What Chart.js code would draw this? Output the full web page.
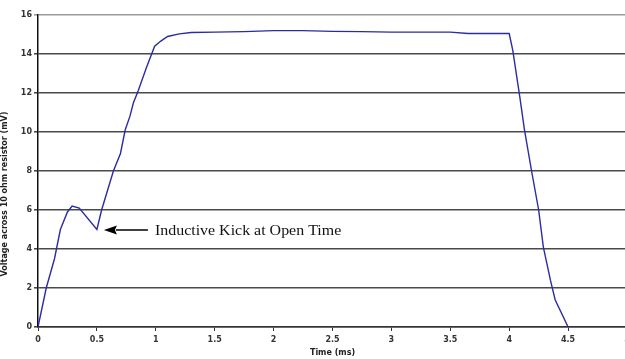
<!DOCTYPE html>
<html>
<head>
<meta charset="utf-8">
<script src="https://cdn.jsdelivr.net/npm/chart.js@4"></script>
<style>
  html, body { margin: 0; padding: 0; overflow: hidden; background: #fff; }
  #wrap { width: 640px; height: 359px; }
</style>
</head>
<body>
<div id="wrap"><canvas id="kickChart" width="640" height="359"></canvas></div>
<script>
// Coil current sense: voltage across 10 ohm resistor vs time

const timeMs = [0, 0.07, 0.14, 0.19, 0.25, 0.29, 0.35, 0.5, 0.54, 0.64, 0.7, 0.74, 0.78, 0.81, 0.85,
  0.92, 0.99, 1.04, 1.1, 1.2, 1.3, 1.5, 1.75, 2.0, 2.25, 2.5, 2.75, 3.0, 3.25, 3.5, 3.65, 3.8,
  4.0, 4.03, 4.09, 4.13, 4.19, 4.25, 4.29, 4.35, 4.39, 4.5];
const voltage = [0, 2.0, 3.5, 5.0, 5.9, 6.2, 6.1, 5.0, 6.0, 8.0, 8.9, 10.1, 10.8, 11.5, 12.1,
  13.3, 14.4, 14.65, 14.9, 15.03, 15.1, 15.12, 15.15, 15.2, 15.2, 15.16, 15.15, 15.12, 15.12, 15.12, 15.05, 15.05,
  15.05, 14.2, 11.8, 10.1, 8.0, 6.0, 4.1, 2.4, 1.4, 0];

const xTicks = [0, 0.5, 1, 1.5, 2, 2.5, 3, 3.5, 4, 4.5, 5];
const yTicks = [0, 2, 4, 6, 8, 10, 12, 14, 16];

const kickPoint = { x: 0.5, y: 5.0 };
const kickLabel = 'Inductive Kick at Open Time';
const yTitle = 'Voltage across 10 ohm resistor (mV)';
const xTitle = 'Time (ms)';

const points = timeMs.map((t, i) => ({ x: t, y: voltage[i] }));
const smallFont = { family: '"DejaVu Sans", Arial, sans-serif', size: 8, weight: 'bold' };

// arrow + note and the rotated y title
const notes = {
  id: 'notes',
  afterDatasetsDraw(chart) {
    const c = chart.ctx;
    const xs = chart.scales.x, ys = chart.scales.y;
    const tipX = xs.getPixelForValue(kickPoint.x) + 7;
    const tipY = ys.getPixelForValue(kickPoint.y) + 0.5;
    c.save();
    c.fillStyle = '#000';
    c.strokeStyle = '#000';
    c.lineWidth = 1.3;
    c.beginPath();
    c.moveTo(tipX + 12, tipY);
    c.lineTo(tipX + 44, tipY);
    c.stroke();
    c.beginPath();
    c.moveTo(tipX, tipY);
    c.lineTo(tipX + 13, tipY - 4.5);
    c.lineTo(tipX + 11, tipY);
    c.lineTo(tipX + 13, tipY + 4.5);
    c.closePath();
    c.fill();

    // the source text is a bit stretched sideways
    c.save();
    c.translate(tipX + 51, tipY + 1);
    c.scale(1.1, 1);
    c.font = '14.5px "Liberation Serif", "Times New Roman", serif';
    c.textBaseline = 'middle';
    c.fillStyle = '#111';
    c.fillText(kickLabel, 0, 0);
    c.restore();

    c.translate(5, 194);
    c.rotate(-Math.PI / 2);
    c.font = 'bold 8px "DejaVu Sans", Arial, sans-serif';
    c.textAlign = 'center';
    c.textBaseline = 'middle';
    c.fillStyle = '#222';
    c.fillText(yTitle, 0, 0);
    c.restore();
  }
};

const ctxKick = document.getElementById('kickChart').getContext('2d');
const kickChart = new Chart(ctxKick, {
  type: 'line',
  data: {
    datasets: [{
      data: points,
      borderColor: '#2b2ba3',
      borderWidth: 1.4,
      pointRadius: 0,
      tension: 0,
      fill: false
    }]
  },
  options: {
    responsive: false,
    animation: false,
    layout: { padding: { top: 15, right: 13, left: 0, bottom: 0 } },
    plugins: { legend: { display: false }, tooltip: { enabled: false } },
    scales: {
      x: {
        type: 'linear',
        min: 0,
        max: 5,
        afterFit: s => { s.height = 32; },
        afterBuildTicks: s => { s.ticks = xTicks.map(v => ({ value: v })); },
        grid: { drawOnChartArea: false, drawTicks: true, tickLength: 4, color: '#333', lineWidth: 1 },
        border: { color: '#333', width: 1.5 },
        ticks: {
          padding: 4,
          color: '#333',
          font: smallFont,
          maxRotation: 0,
          callback: v => String(v)
        },
        title: {
          display: true,
          text: xTitle,
          color: '#222',
          padding: { top: 0, bottom: 1 },
          font: smallFont
        }
      },
      y: {
        min: 0,
        max: 16,
        afterFit: s => { s.width = 38; },
        afterBuildTicks: s => { s.ticks = yTicks.map(v => ({ value: v })); },
        grid: {
          color: c => (c.tick && c.tick.value === 16 ? '#9a9a9a' : '#4a4a4a'),
          lineWidth: 1.6,
          drawTicks: true,
          tickLength: 4
        },
        border: { color: '#111', width: 1.5 },
        ticks: {
          padding: 2,
          color: '#333',
          font: smallFont,
          callback: v => String(v)
        }
      }
    }
  },
  plugins: [notes]
});
</script>
</body>
</html>
